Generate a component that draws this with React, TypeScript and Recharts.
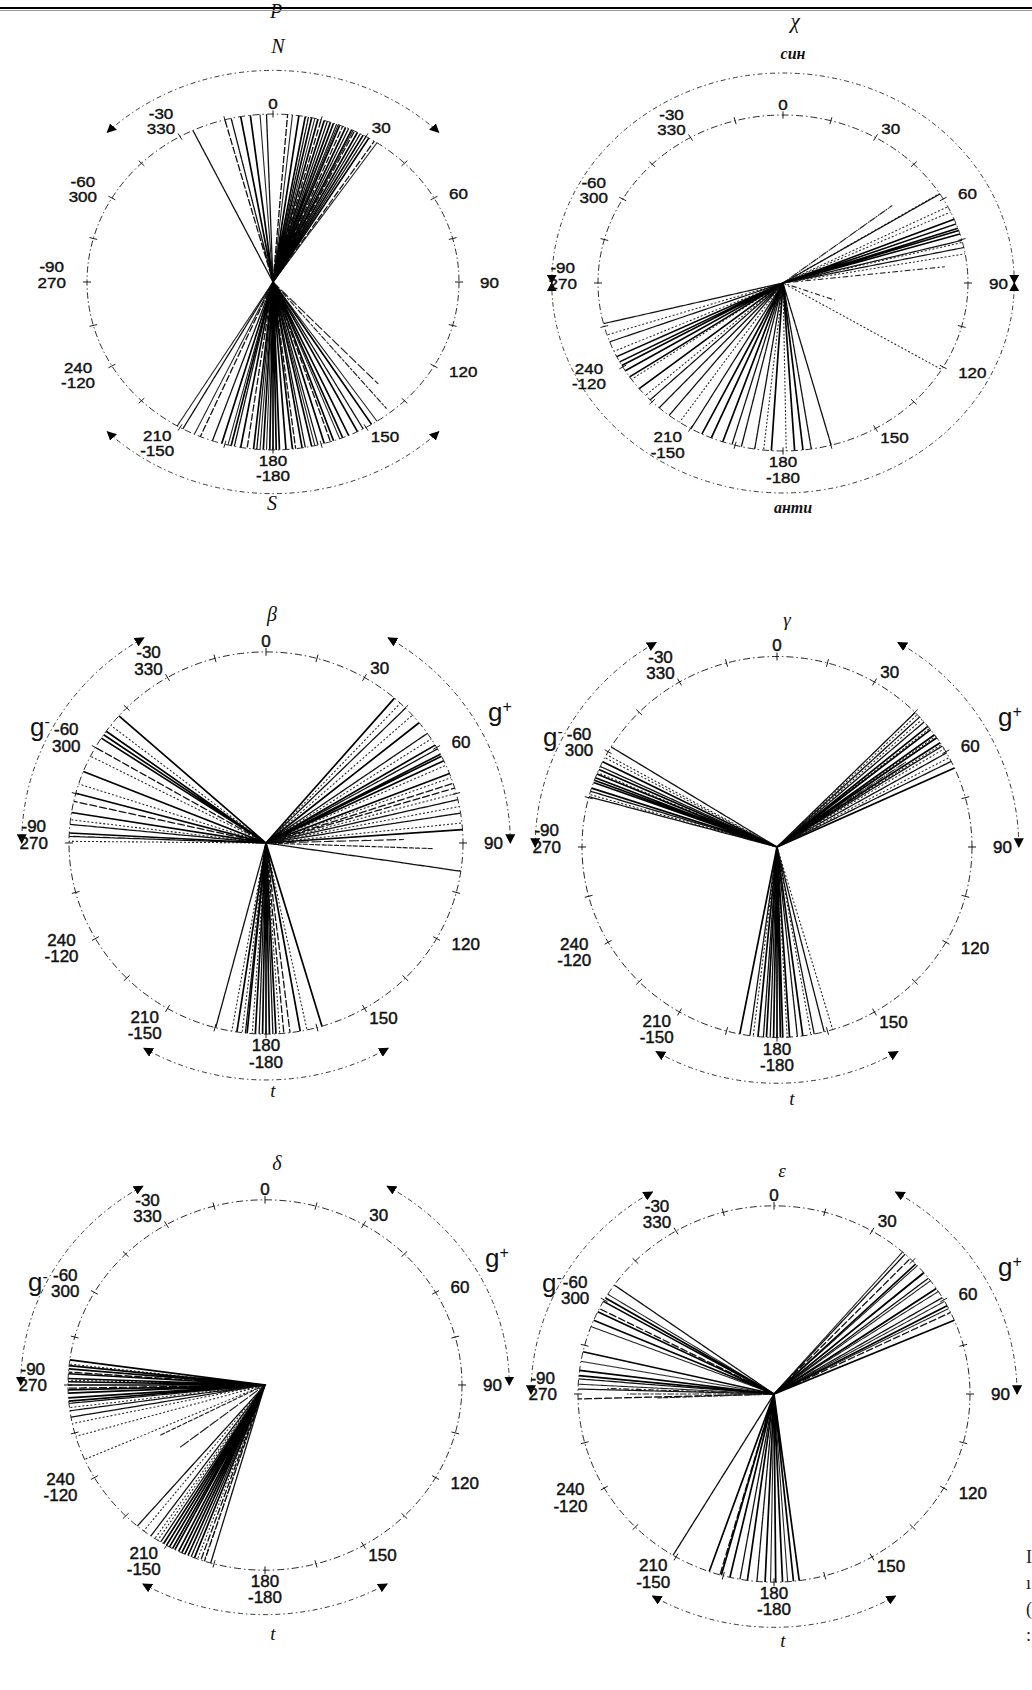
import React from "react";
import {
  RadarChart,
  PolarAngleAxis,
  PolarRadiusAxis,
  Radar,
  Customized,
} from "recharts";

// torsion angles, degrees clockwise from the top (0..360)
const tickMarks = [0, 15, 30, 45, 60, 75, 90, 105, 120, 135, 150, 165, 180, 195, 210, 225, 240, 255, 270, 285, 300, 315, 330, 345];
const labelAngles = [0, 30, 60, 90, 120, 150, 180, 210, 240, 270, 300, 330];
const labelFirst = ["0", "30", "60", "90", "120", "150", "180", "210", "240", "-90", "-60", "-30"];
const labelSecond = ["", "", "", "", "", "", "-180", "-150", "-120", "270", "300", "330"];

// P
const pSolid = [350, 353, 8, 10, 12, 14, 16, 18, 19, 21, 23, 25, 27, 29, 31, 148, 153, 156, 158, 161, 164, 168, 171, 174, 176, 178, 179, 180, 181, 183, 186, 190, 193, 196];
const pDashed = [334.5, 345, 347, 358, 4.5, 11, 15, 17, 20, 22, 24, 26, 28, 30, 33, 151, 162, 166, 170, 173, 185, 188, 192, 199, 203, 209];
const pDotted = [356, 6, 13, 20.5, 25.5, 34, 146, 159, 167, 182, 184, 194, 205, 211];
const pShort: [number, number][] = [[137, 0.83], [141, 0.97]];

// chi
const chiSolid = [67.7, 69.4, 71, 71.8, 73, 231, 236, 238.5, 240.6, 242, 244, 183.6, 176.4, 173.8, 199, 202.8, 206];
const chiDashed = [58, 75.3, 77.8, 256, 249.5, 225.9, 222, 218, 209.8, 188.8, 171.2, 164.9, 193, 196];
const chiDotted = [57.8, 63, 65, 76, 80, 121, 235, 228, 246, 252, 214, 186, 179];
const chiShort: [number, number][] = [[52, 0.75], [83.7, 0.88], [110, 0.3]];

// beta
const betaSolid = [40.7, 51, 59.2, 62.3, 63, 64.5, 68.7, 86, 311.7, 305.8, 303.3, 304.5, 292, 285.1, 279.2, 273, 180, 181, 179, 177.1, 183.1, 185.5, 170, 163.5, 188.5];
const betaDashed = [45.1, 55, 60.5, 71.8, 73.3, 76.9, 81, 98.5, 300, 282.6, 275.6, 272, 194.8, 174.8, 173, 178, 182, 186];
const betaDotted = [43, 48, 57, 66, 70, 75, 79, 84, 308, 297, 288, 277, 270.5, 176, 184, 187, 190, 168];
const betaShort: [number, number][] = [[88.5, 0.7], [92, 0.85]];

// gamma
const gammaSolid = [50.7, 52, 53.9, 55, 56.8, 65.5, 296.6, 294, 291.3, 289.8, 288, 290.5, 292.5, 180, 181, 179, 178.3, 183.1, 185.6, 191, 176.3, 172.4];
const gammaDashed = [45.1, 47, 49, 58, 60.4, 63.3, 301.7, 285.3, 287, 295, 169, 166, 174, 182, 184, 188];
const gammaDotted = [46, 48, 51.5, 54.5, 57.5, 59, 62, 299, 298, 293, 286, 163.4, 170, 177, 187];
const gammaShort: [number, number][] = [[47, 0.75], [52, 0.6], [56, 0.8]];

// delta
const deltaSolid = [265, 266, 267.5, 268.5, 270, 271, 272, 273.5, 275, 276, 277.8, 207.2, 203, 205, 206, 208, 209, 210, 211, 201, 204];
const deltaDashed = [264.3, 262, 260, 269, 274, 220.4, 215.4, 212, 199, 197.9, 196, 202];
const deltaDotted = [253.9, 246.3, 258, 263, 271.5, 276.5, 218, 214, 213, 200, 198];
const deltaShort: [number, number][] = [[243, 0.6], [232, 0.55]];

// epsilon
const epsSolid = [46.3, 49.8, 55.9, 62, 66.9, 300.7, 299.5, 295.9, 293.1, 283, 277.2, 275.6, 199.3, 195.6, 193, 187.8, 182.6, 179.5, 177.5, 174.3, 172.6];
const epsDashed = [42, 44, 52, 59.2, 64.3, 305.4, 297, 274.6, 271.5, 268.5, 211, 196, 190, 185];
const epsDotted = [41, 47, 50, 53, 57, 60.5, 63, 302, 291, 280, 273, 176, 181];
const epsShort: [number, number][] = [[270, 0.75], [268, 0.6], [272, 0.85]];

const W = 540;
const H = 540;
const C = 270;

type Panel = {
  id: string;
  x: number;
  y: number;
  r: number;
  sy: number;
  arcR: number;
  arcs: [number, number][];
  solid: number[];
  dashed: number[];
  dotted: number[];
  short: [number, number][];
};

const gArcs: [number, number][] = [[30, 90], [270, 330], [150, 210]];

const panels: Panel[] = [
  { id: "p", x: 273, y: 282, r: 186, sy: 0.903, arcR: 1.26, arcs: [[315, 405], [135, 225]], solid: pSolid, dashed: pDashed, dotted: pDotted, short: pShort },
  { id: "chi", x: 783, y: 283, r: 185, sy: 0.908, arcR: 1.25, arcs: [[270, 450], [90, 270]], solid: chiSolid, dashed: chiDashed, dotted: chiDotted, short: chiShort },
  { id: "beta", x: 266, y: 843, r: 197, sy: 0.97, arcR: 1.24, arcs: gArcs, solid: betaSolid, dashed: betaDashed, dotted: betaDotted, short: betaShort },
  { id: "gamma", x: 777, y: 847, r: 195, sy: 0.977, arcR: 1.24, arcs: gArcs, solid: gammaSolid, dashed: gammaDashed, dotted: gammaDotted, short: gammaShort },
  { id: "delta", x: 265, y: 1385, r: 197, sy: 0.94, arcR: 1.24, arcs: gArcs, solid: deltaSolid, dashed: deltaDashed, dotted: deltaDotted, short: deltaShort },
  { id: "eps", x: 774, y: 1394, r: 196, sy: 0.96, arcR: 1.24, arcs: gArcs, solid: epsSolid, dashed: epsDashed, dotted: epsDotted, short: epsShort },
];

// every line: edge point, centre point, then a null row so the polygon breaks
function buildRows(p: Panel) {
  const empty = { solid: null, dashed: null, dotted: null, short: null };
  const rows: any[] = [{ a: 0, ...empty }];
  const push = (key: string, a: number, len: number) => {
    rows.push({ a, ...empty, [key]: len });
    rows.push({ a, ...empty, [key]: 0 });
    rows.push({ a, ...empty });
  };
  p.solid.forEach((a) => push("solid", a, 1));
  p.dashed.forEach((a) => push("dashed", a, 1));
  p.dotted.forEach((a) => push("dotted", a, 1));
  p.short.forEach(([a, len]) => push("short", a, len));
  return rows;
}

function makeTick(r: number) {
  return (props: any) => {
    const v = props.payload?.value as number;
    const rad = (v * Math.PI) / 180;
    const s = Math.sin(rad);
    const c = Math.cos(rad);
    const px = C + r * s;
    const py = C - r * c;
    const mark = (
      <line x1={C + (r - 4) * s} y1={C - (r - 4) * c} x2={C + (r + 4) * s} y2={C - (r + 4) * c} stroke="#111" strokeWidth={1} />
    );
    const i = labelAngles.indexOf(v);
    if (i < 0) return <g>{mark}</g>;
    const lines = [labelFirst[i], labelSecond[i]].filter(Boolean);
    const w = Math.max(...lines.map((l) => l.length)) * 9.5;
    const h = lines.length * 17;
    const dx = Math.sign(s) * Math.min(1, Math.abs(s) * 1.6) * (w / 2 + 9) + Math.pow(s, 5) * 12;
    let dy = -c * (h / 2 + 3);
    if (Math.abs(s) > 0.95) dy -= h / 2 - 8.5;
    const tx = px + dx;
    const ty = py + dy - h / 2 + 8.5;
    return (
      <g>
        {mark}
        <text
          x={tx}
          y={ty}
          textAnchor="middle"
          dominantBaseline="central"
          fontFamily="'Liberation Sans', Arial, sans-serif"
          fontSize={17}
          fill="#111"
          stroke="#111"
          strokeWidth={0.45}
        >
          {lines.map((l, k) => (
            <tspan key={k} x={tx} dy={k === 0 ? 0 : 17}>
              {l}
            </tspan>
          ))}
        </text>
      </g>
    );
  };
}

function Arcs({ p }: { p: Panel }) {
  const ar = p.r * p.arcR;
  const pt = (deg: number) => [C + ar * Math.sin((deg * Math.PI) / 180), C - ar * Math.cos((deg * Math.PI) / 180)];
  const mid = `ah-${p.id}`;
  return (
    <g>
      <defs>
        <marker id={mid} viewBox="0 0 10 10" refX="9" refY="5" markerWidth="10" markerHeight="10" markerUnits="userSpaceOnUse" orient="auto-start-reverse">
          <path d="M0,0 L10,5 L0,10 z" fill="#000" />
        </marker>
      </defs>
      {p.arcs.map(([from, to], k) => {
        const [x1, y1] = pt(from);
        const [x2, y2] = pt(to);
        const large = to - from > 180 ? 1 : 0;
        return (
          <path
            key={k}
            d={`M${x1},${y1} A${ar},${ar} 0 ${large} 1 ${x2},${y2}`}
            fill="none"
            stroke="#333"
            strokeWidth={1}
            strokeDasharray="5 3 1.5 3"
            markerStart={`url(#${mid})`}
            markerEnd={`url(#${mid})`}
          />
        );
      })}
    </g>
  );
}

function Wheel({ p }: { p: Panel }) {
  const rows = buildRows(p);
  return (
    <div
      style={{
        position: "absolute",
        left: p.x - C,
        top: p.y - C,
        width: W,
        height: H,
        transform: `scaleY(${p.sy})`,
        transformOrigin: `${C}px ${C}px`,
      }}
    >
      <RadarChart
        width={W}
        height={H}
        cx={C}
        cy={C}
        innerRadius={0}
        outerRadius={p.r}
        startAngle={90}
        endAngle={-270}
        data={rows}
        margin={{ top: 0, right: 0, bottom: 0, left: 0 }}
      >
        <PolarAngleAxis
          dataKey="a"
          type="number"
          domain={[0, 360]}
          ticks={tickMarks}
          tick={makeTick(p.r)}
          tickLine={false}
          axisLineType="circle"
          axisLine={{ stroke: "#222", strokeWidth: 1, strokeDasharray: "7 3 1.5 3" }}
        />
        <PolarRadiusAxis domain={[0, 1]} tick={false} axisLine={false} />
        <Radar dataKey="dotted" stroke="#222" strokeWidth={1.1} strokeDasharray="2 2" fill="none" fillOpacity={0} dot={false} isAnimationActive={false} />
        <Radar dataKey="dashed" stroke="#111" strokeWidth={1.3} strokeDasharray="7 3" fill="none" fillOpacity={0} dot={false} isAnimationActive={false} />
        <Radar dataKey="short" stroke="#222" strokeWidth={1.2} strokeDasharray="5 3 1.5 3" fill="none" fillOpacity={0} dot={false} isAnimationActive={false} />
        <Radar dataKey="solid" stroke="#000" strokeWidth={1.7} fill="none" fillOpacity={0} dot={false} isAnimationActive={false} />
        <Customized component={<Arcs p={p} />} />
      </RadarChart>
    </div>
  );
}

const serif = "'Liberation Serif', 'Times New Roman', serif";
const sans = "'Liberation Sans', Arial, sans-serif";

const titles: { t: string; x: number; y: number; size: number; bold?: boolean }[] = [
  { t: "P", x: 276, y: 11, size: 20 },
  { t: "χ", x: 795, y: 21, size: 21 },
  { t: "N", x: 278, y: 46, size: 20 },
  { t: "S", x: 272, y: 503, size: 20 },
  { t: "син", x: 793, y: 54, size: 16, bold: true },
  { t: "анти", x: 793, y: 508, size: 16, bold: true },
  { t: "β", x: 272, y: 614, size: 20 },
  { t: "γ", x: 787, y: 619, size: 19 },
  { t: "δ", x: 277, y: 1163, size: 20 },
  { t: "ε", x: 782, y: 1170, size: 19 },
  { t: "t", x: 273, y: 1090, size: 19 },
  { t: "t", x: 792, y: 1098, size: 19 },
  { t: "t", x: 273, y: 1633, size: 19 },
  { t: "t", x: 783, y: 1640, size: 19 },
];

const gLabels: { sign: string; x: number; y: number }[] = [
  { sign: "+", x: 500, y: 712 },
  { sign: "-", x: 40, y: 727 },
  { sign: "+", x: 1010, y: 717 },
  { sign: "-", x: 553, y: 737 },
  { sign: "+", x: 497, y: 1258 },
  { sign: "-", x: 38, y: 1282 },
  { sign: "+", x: 1010, y: 1267 },
  { sign: "-", x: 552, y: 1283 },
];

export default function App() {
  return (
    <div
      style={{
        position: "absolute",
        left: 0,
        top: 0,
        width: 1032,
        height: 1690,
        overflow: "hidden",
        background: "#fff",
      }}
    >
      {titles.map((l, i) => (
        <div
          key={i}
          style={{
            position: "absolute",
            left: l.x,
            top: l.y,
            transform: "translate(-50%, -50%)",
            fontFamily: serif,
            fontStyle: "italic",
            fontWeight: l.bold ? 700 : 400,
            fontSize: l.size,
            color: "#111",
            lineHeight: 1,
            whiteSpace: "nowrap",
          }}
        >
          {l.t}
        </div>
      ))}
      {gLabels.map((l, i) => (
        <div
          key={i}
          style={{
            position: "absolute",
            left: l.x,
            top: l.y,
            transform: "translate(-50%, -50%)",
            fontFamily: sans,
            fontSize: 26,
            color: "#111",
            lineHeight: 1,
            whiteSpace: "nowrap",
          }}
        >
          g<sup style={{ fontSize: 16, verticalAlign: "0.55em" }}>{l.sign}</sup>
        </div>
      ))}
      <div style={{ position: "absolute", left: 0, top: 7, width: 1032, height: 2, background: "#000" }} />
      <div style={{ position: "absolute", left: 0, top: 10, width: 1032, height: 1, background: "#999" }} />
      {panels.map((p) => (
        <Wheel key={p.id} p={p} />
      ))}
      {["I", "ı", "(", ":"].map((ch, i) => (
        <div
          key={i}
          style={{ position: "absolute", left: 1026, top: 1548 + i * 26, fontFamily: serif, fontSize: 18, color: "#222", lineHeight: 1 }}
        >
          {ch}
        </div>
      ))}
    </div>
  );
}
